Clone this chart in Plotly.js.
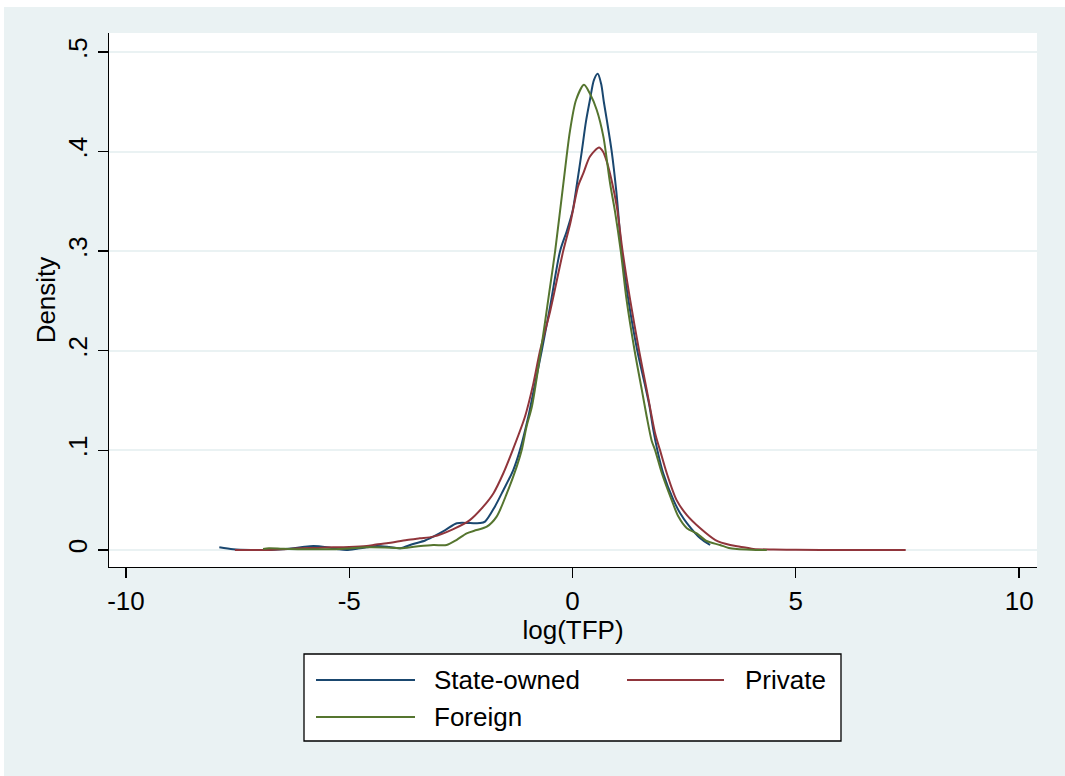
<!DOCTYPE html>
<html>
<head>
<meta charset="utf-8">
<script src="https://cdn.plot.ly/plotly-3.0.1.min.js"></script>
<style>
  html, body { margin: 0; padding: 0; background: #ffffff; }
  #chart { position: absolute; left: 4px; top: 7px; width: 1061px; height: 769px; }
</style>
</head>
<body>
<div id="chart"></div>
<script>
// ---- Data ----
const seriesNames = ["State-owned", "Private", "Foreign"];
const seriesColors = ["#1A476F", "#90353B", "#55752F"];

const stateX = [-7.91,-7.6,-7.2,-6.85,-6.5,-6.25,-6.0,-5.8,-5.5,-5.25,-5.06,-4.8,-4.61,-4.38,-4.1,-3.86,-3.57,-3.3,-3.12,-2.85,-2.59,-2.3,-2.07,-1.96,-1.74,-1.55,-1.33,-1.18,-0.99,-0.84,-0.69,-0.5,-0.28,-0.13,0.0,0.1,0.206,0.3,0.39,0.48,0.564,0.64,0.70,0.766,0.877,0.98,1.10,1.25,1.45,1.62,1.72,1.81,1.90,2.03,2.26,2.41,2.56,2.86,3.08];
const stateY = [0.0027,0.0007,0.0,0.0,0.0008,0.0017,0.0033,0.004,0.0027,0.0008,0.0,0.0015,0.0027,0.004,0.003,0.0017,0.006,0.0095,0.0134,0.02,0.0268,0.027,0.027,0.0285,0.0435,0.060,0.080,0.1,0.134,0.167,0.2,0.245,0.3,0.32,0.34,0.368,0.4,0.43,0.452,0.472,0.478,0.468,0.45,0.432,0.40,0.36,0.3,0.251,0.2,0.166,0.145,0.12,0.1,0.077,0.05,0.0368,0.027,0.0117,0.005];

const privateX = [-7.56,-7.2,-6.85,-6.5,-6.1,-5.7,-5.36,-5.0,-4.61,-4.4,-4.16,-3.71,-3.42,-3.12,-2.67,-2.30,-2.0,-1.77,-1.55,-1.36,-1.064,-0.878,-0.728,-0.5,-0.355,-0.21,-0.056,0.13,0.24,0.39,0.594,0.68,0.766,0.88,0.99,1.12,1.29,1.49,1.66,1.85,1.96,2.11,2.33,2.56,2.86,3.2,3.53,3.75,4.05,4.5,5.0,6.0,7.46];
const privateY = [0.0,0.0,0.0,0.0008,0.0017,0.002,0.0027,0.003,0.004,0.0055,0.0067,0.01,0.0117,0.0134,0.021,0.030,0.0435,0.057,0.077,0.098,0.134,0.167,0.2,0.24,0.27,0.3,0.327,0.366,0.378,0.395,0.404,0.400,0.39,0.37,0.345,0.3,0.251,0.2,0.161,0.117,0.1,0.077,0.05,0.035,0.0218,0.01,0.005,0.0033,0.001,0.0004,0.0002,0.0,0.0];

const foreignX = [-6.93,-6.8,-6.5,-6.1,-5.7,-5.36,-5.0,-4.61,-4.2,-3.86,-3.5,-3.12,-2.82,-2.6,-2.37,-2.15,-1.92,-1.70,-1.47,-1.25,-1.14,-1.03,-0.91,-0.71,-0.52,-0.39,-0.2,-0.06,0.08,0.257,0.39,0.54,0.69,0.84,0.95,1.08,1.21,1.39,1.55,1.66,1.77,1.85,2.0,2.22,2.37,2.56,2.78,3.0,3.30,3.5,3.68,4.0,4.35];
const foreignY = [0.001,0.0017,0.0012,0.0007,0.0007,0.0007,0.0015,0.0027,0.0025,0.0017,0.0035,0.005,0.005,0.01,0.0167,0.020,0.0234,0.0335,0.057,0.0837,0.1,0.124,0.144,0.2,0.259,0.3,0.37,0.42,0.452,0.467,0.458,0.442,0.415,0.368,0.34,0.3,0.251,0.2,0.161,0.134,0.110,0.1,0.077,0.05,0.0335,0.0218,0.0167,0.009,0.005,0.002,0.001,0.0003,0.0];

const xTickVals = [-10, -5, 0, 5, 10];
const xTickText = ["-10", "-5", "0", "5", "10"];
const yTickVals = [0, 0.1, 0.2, 0.3, 0.4, 0.5];
const yTickText = ["0", ".1", ".2", ".3", ".4", ".5"];
const xTitle = "log(TFP)";
const yTitle = "Density";

// ---- Build traces ----
const xs = [stateX, privateX, foreignX];
const ys = [stateY, privateY, foreignY];
const traces = seriesNames.map((name, i) => ({
  type: "scatter",
  mode: "lines",
  name: name,
  x: xs[i],
  y: ys[i],
  line: { color: seriesColors[i], width: 2, shape: "spline", smoothing: 0.8 },
  showlegend: false,
  hoverinfo: "skip"
}));

// ---- Layout geometry (pixels in the 1065x776 window) ----
const DIV_L = 4, DIV_T = 7, DIV_W = 1061, DIV_H = 769;
const PLOT_L = 109, PLOT_R = 1037, PLOT_T = 33, PLOT_B = 567;
const px2paperX = p => (p - PLOT_L) / (PLOT_R - PLOT_L);
const px2paperY = p => (PLOT_B - p) / (PLOT_B - PLOT_T);

const font = "Liberation Sans, Arial, Helvetica, sans-serif";
const FS = 26;

// custom Stata-style legend
const legBox = { x0: 304, x1: 841, y0: 654, y1: 741 };
const legItems = [
  { lx0: 316, lx1: 415, tx: 432, y: 680 },
  { lx0: 627, lx1: 724, tx: 743, y: 680 },
  { lx0: 316, lx1: 415, tx: 432, y: 717 }
];
const shapes = [{
  type: "rect", xref: "paper", yref: "paper",
  x0: px2paperX(legBox.x0), x1: px2paperX(legBox.x1),
  y0: px2paperY(legBox.y0), y1: px2paperY(legBox.y1),
  fillcolor: "#ffffff", line: { color: "#000000", width: 1.3 }, layer: "above"
}];
const annotations = [];
legItems.forEach((it, i) => {
  shapes.push({
    type: "line", xref: "paper", yref: "paper",
    x0: px2paperX(it.lx0), x1: px2paperX(it.lx1),
    y0: px2paperY(it.y), y1: px2paperY(it.y),
    line: { color: seriesColors[i], width: 2 }, layer: "above"
  });
  annotations.push({
    xref: "paper", yref: "paper",
    x: px2paperX(it.tx), y: px2paperY(it.y),
    xanchor: "left", yanchor: "middle",
    text: seriesNames[i], showarrow: false,
    font: { family: font, size: FS, color: "#000000" }
  });
});

const layout = {
  width: DIV_W, height: DIV_H,
  margin: { l: PLOT_L - DIV_L, r: DIV_L + DIV_W - PLOT_R, t: PLOT_T - DIV_T, b: DIV_T + DIV_H - PLOT_B, pad: 0 },
  paper_bgcolor: "#EAF2F3",
  plot_bgcolor: "#FFFFFF",
  font: { family: font, size: FS, color: "#000000" },
  showlegend: false,
  xaxis: {
    range: [-10.38, 10.40],
    tickvals: xTickVals, ticktext: xTickText,
    ticks: "outside", ticklen: 10, tickwidth: 1.3, tickcolor: "#000000",
    showline: true, linecolor: "#000000", linewidth: 1.3,
    showgrid: false, zeroline: false,
    tickfont: { family: font, size: FS, color: "#000000" },
    title: { text: xTitle, font: { family: font, size: FS, color: "#000000" }, standoff: 1 }
  },
  yaxis: {
    range: [-0.0171, 0.519],
    tickvals: yTickVals, ticktext: yTickText,
    tickangle: -90,
    ticks: "outside", ticklen: 10, tickwidth: 1.3, tickcolor: "#000000",
    showline: true, linecolor: "#000000", linewidth: 1.3,
    showgrid: true, gridcolor: "#EAF2F3", gridwidth: 2,
    zeroline: false,
    tickfont: { family: font, size: FS, color: "#000000" },
    title: { text: yTitle, font: { family: font, size: FS, color: "#000000" }, standoff: 0 }
  },
  shapes: shapes,
  annotations: annotations
};

Plotly.newPlot("chart", traces, layout, { displayModeBar: false, staticPlot: true });
</script>
</body>
</html>
